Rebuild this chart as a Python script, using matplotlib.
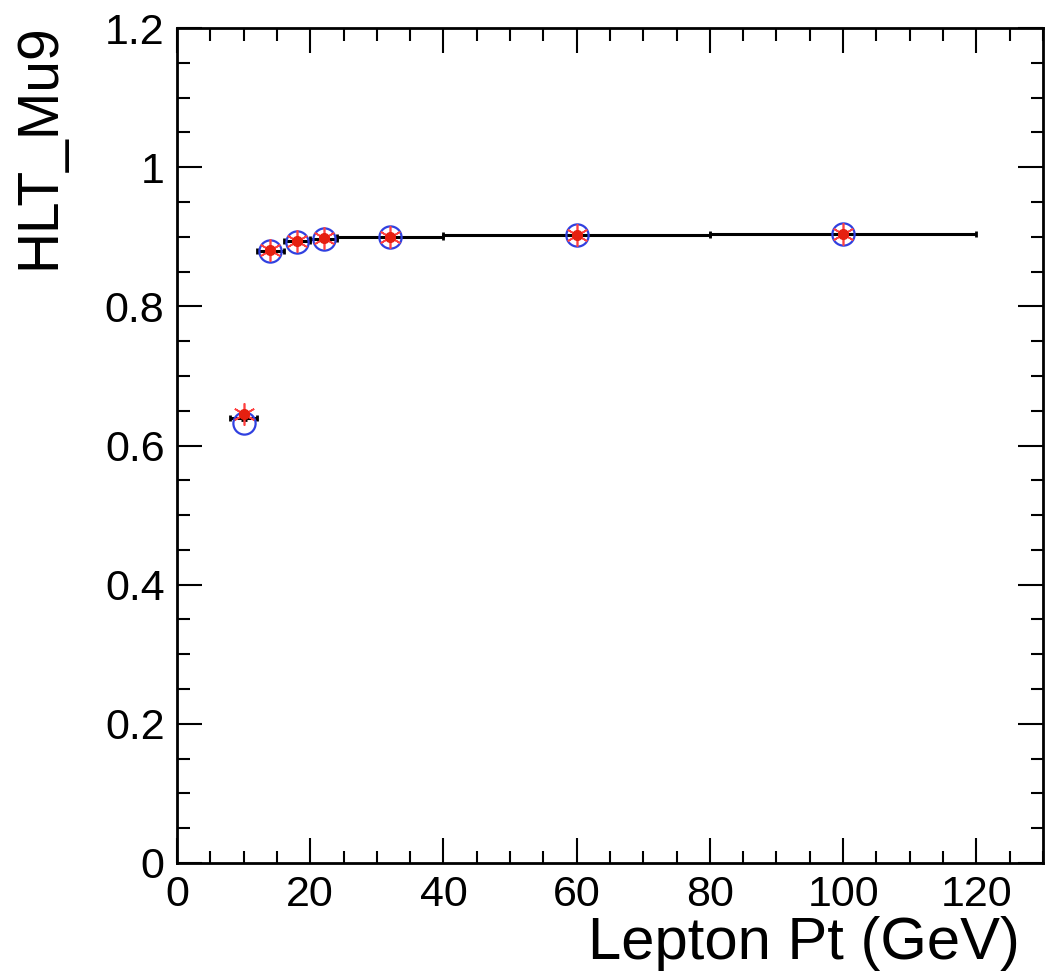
import numpy as np
import matplotlib
matplotlib.use("Agg")
import matplotlib.pyplot as plt
from matplotlib.ticker import MultipleLocator, FormatStrFormatter

plt.rcParams['font.family'] = ['Liberation Sans', 'DejaVu Sans']

# bins (GeV) and efficiencies
bin_lo = [8, 12, 16, 20, 24, 40, 80]
bin_hi = [12, 16, 20, 24, 40, 80, 120]
eff_hist = [0.640, 0.880, 0.894, 0.897, 0.900, 0.903, 0.904]

pt_pts = [10, 14, 18, 22, 32, 60, 100]
eff_blue = [0.632, 0.879, 0.893, 0.897, 0.900, 0.903, 0.904]
eff_red = [0.646, 0.881, 0.894, 0.898, 0.900, 0.903, 0.904]

lo = np.array(bin_lo)
hi = np.array(bin_hi)
centers = (lo + hi) / 2
half = (hi - lo) / 2

fig = plt.figure(figsize=(10.45, 9.8), dpi=100)
ax = fig.add_axes([0.1694, 0.1194, 0.8286, 0.852])

# black histogram-style points with horizontal bin errors
ax.errorbar(centers, eff_hist, xerr=half, yerr=0.003, fmt='none',
            ecolor='black', elinewidth=2.2, capsize=2.5, capthick=2, zorder=2)

# blue open circles
ax.plot(pt_pts, eff_blue, linestyle='none', marker='o', markersize=16,
        markerfacecolor='none', markeredgecolor='#3040e0', markeredgewidth=1.6, zorder=3)

# red asterisks with filled centre
ax.plot(pt_pts, eff_red, linestyle='none', marker=(6, 2, 0), markersize=16,
        color='#ff4040', markeredgewidth=1.2, zorder=4)
ax.plot(pt_pts, eff_red, linestyle='none', marker='o', markersize=7,
        color='#e52010', zorder=5)

ax.set_xlim(0, 130)
ax.set_ylim(0, 1.2)

ax.xaxis.set_major_locator(MultipleLocator(20))
ax.xaxis.set_minor_locator(MultipleLocator(5))
ax.yaxis.set_major_locator(MultipleLocator(0.2))
ax.yaxis.set_minor_locator(MultipleLocator(0.05))
ax.yaxis.set_major_formatter(FormatStrFormatter('%g'))

ax.tick_params(which='both', direction='in', top=True, right=True,
               labelsize=31, width=1.5)
ax.tick_params(which='major', length=18, pad=9)
ax.tick_params(which='minor', length=9)
for s in ax.spines.values():
    s.set_linewidth(2)

ax.set_xlabel('Lepton Pt (GeV)', fontsize=43, loc='right')
ax.xaxis.set_label_coords(0.973, -0.064)
ax.set_ylabel('HLT_Mu9', fontsize=41, loc='top')
ax.yaxis.set_label_coords(-0.128, 1.006)

fig.savefig('out.png', dpi=100)
